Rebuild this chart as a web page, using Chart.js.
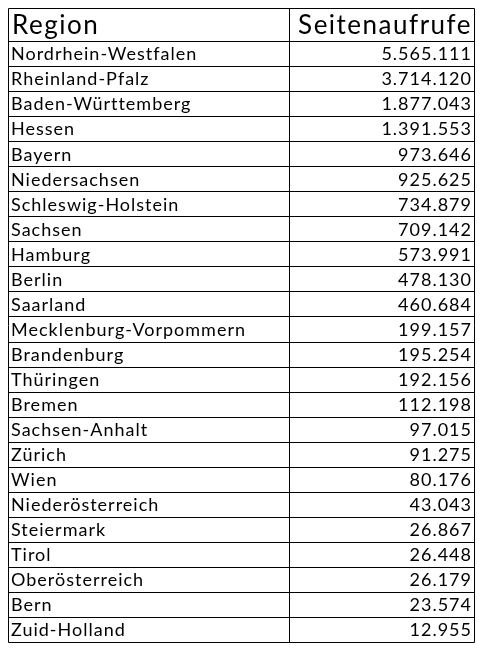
<!DOCTYPE html>
<html><head><meta charset="utf-8">
<script src="https://cdn.jsdelivr.net/npm/chart.js@4"></script>
<style>html,body{margin:0;padding:0;background:#fff}</style>
</head><body>
<canvas id="c" width="477" height="651"></canvas>
<script>
const headers = ["Region", "Seitenaufrufe"];
const regions = ["Nordrhein-Westfalen","Rheinland-Pfalz","Baden-Württemberg","Hessen","Bayern","Niedersachsen","Schleswig-Holstein","Sachsen","Hamburg","Berlin","Saarland","Mecklenburg-Vorpommern","Brandenburg","Thüringen","Bremen","Sachsen-Anhalt","Zürich","Wien","Niederösterreich","Steiermark","Tirol","Oberösterreich","Bern","Zuid-Holland"];
const views = [5565111,3714120,1877043,1391553,973646,925625,734879,709142,573991,478130,460684,199157,195254,192156,112198,97015,91275,80176,43043,26867,26448,26179,23574,12955];

const FONT = "Lato, 'DejaVu Sans', sans-serif";
const fmt = n => String(n).replace(/\B(?=(\d{3})+(?!\d))/g, ".");

// Tabelle wird über die Kategorie-Skala der y-Achse gezeichnet
const tablePlugin = {
  id: 'table',
  afterDraw(chart) {
    const ctx = chart.ctx, y = chart.scales.y, a = chart.chartArea;
    const colX = 289, headTop = 8;
    const half = (y.getPixelForValue(1) - y.getPixelForValue(0)) / 2;
    ctx.save();
    ctx.strokeStyle = '#000'; ctx.lineWidth = 1;
    ctx.beginPath();
    ctx.rect(a.left + 0.5, headTop + 0.5, a.right - a.left, a.bottom - headTop);
    ctx.moveTo(colX + 0.5, headTop); ctx.lineTo(colX + 0.5, a.bottom);
    for (let i = 0; i < regions.length; i++) {
      const yy = Math.round(y.getPixelForValue(i) - half) + 0.5;
      ctx.moveTo(a.left, yy); ctx.lineTo(a.right, yy);
    }
    ctx.stroke();
    // Kopfzeile
    ctx.fillStyle = '#000'; ctx.textBaseline = 'middle';
    ctx.font = '26px ' + FONT;
    ctx.letterSpacing = '1.5px';
    const hy = (headTop + a.top) / 2 + 1;
    ctx.textAlign = 'left'; ctx.fillText(headers[0], a.left + 4, hy);
    ctx.textAlign = 'right'; ctx.fillText(headers[1], a.right - 2, hy);
    // Zeilen
    ctx.font = '18px ' + FONT;
    ctx.letterSpacing = '1px';
    regions.forEach((r, i) => {
      const yy = y.getPixelForValue(i) + 1;
      ctx.textAlign = 'left'; ctx.fillText(r, a.left + 3, yy);
      ctx.textAlign = 'right'; ctx.fillText(fmt(views[i]), a.right - 2, yy);
    });
    ctx.restore();
  }
};

new Chart(document.getElementById('c'), {
  type: 'bar',
  data: { labels: regions, datasets: [{ data: views, backgroundColor: 'rgba(0,0,0,0)' }] },
  options: {
    indexAxis: 'y', responsive: false, animation: false, devicePixelRatio: 1,
    layout: { padding: { left: 8, right: 3, top: 41, bottom: 9 } },
    plugins: { legend: { display: false }, tooltip: { enabled: false } },
    scales: { x: { display: false }, y: { display: false } }
  },
  plugins: [tablePlugin]
});
</script>
</body></html>
